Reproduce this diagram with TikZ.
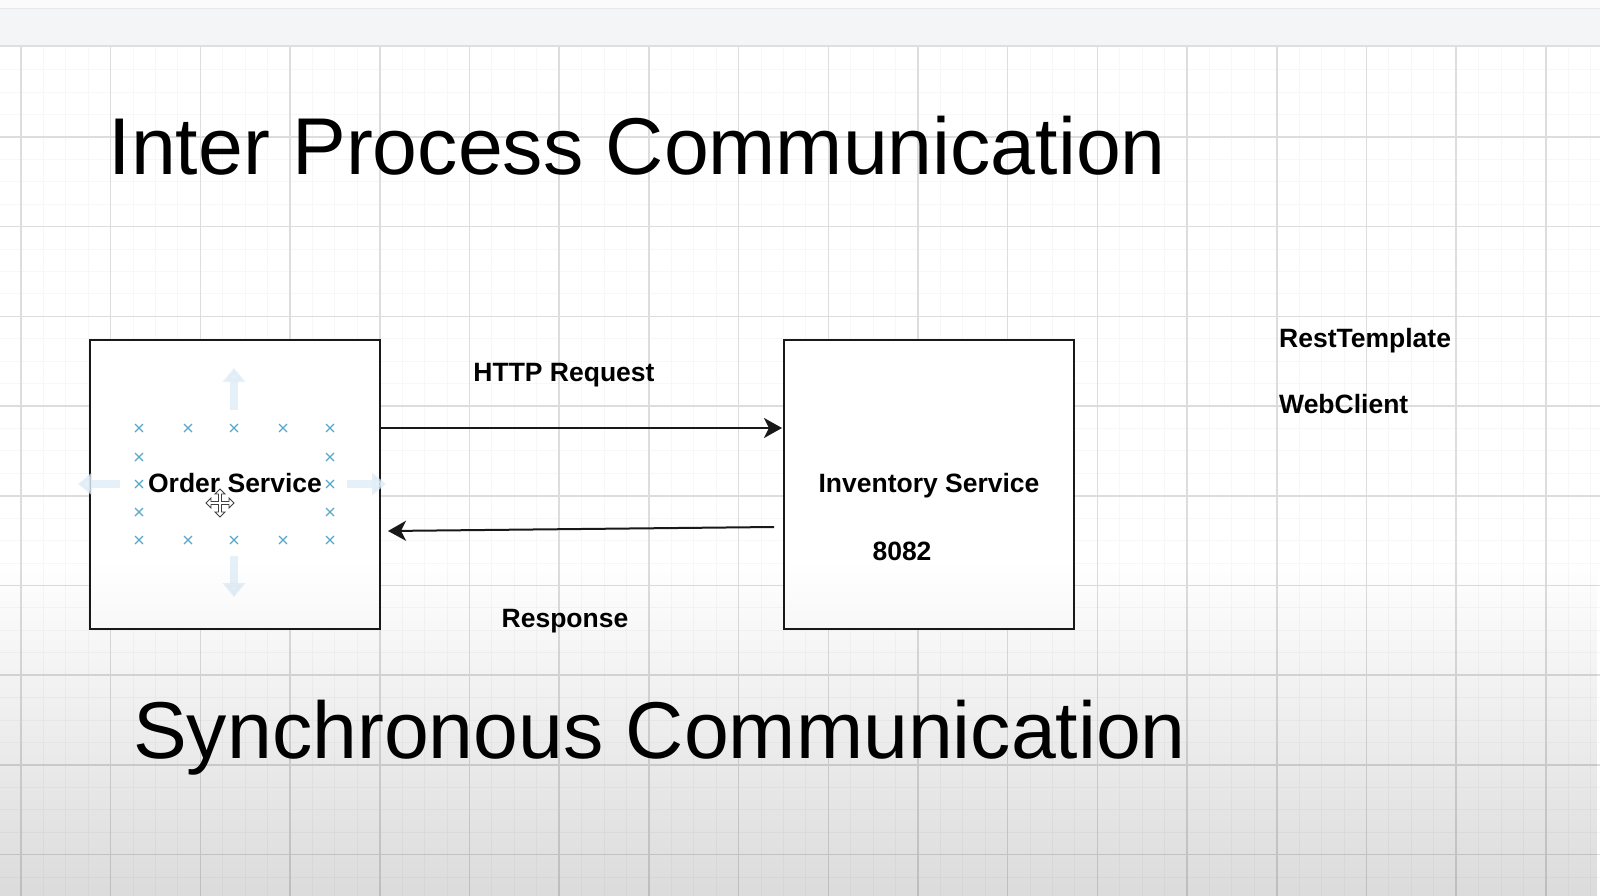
\documentclass[tikz,border=0pt]{standalone}
\usepackage{fontspec}
\setmainfont{Liberation Sans}
\usetikzlibrary{arrows.meta, fadings}

\definecolor{gridline}{RGB}{221,221,221}
\definecolor{gridminor}{RGB}{247,247,247}
\definecolor{handle}{RGB}{88,168,204}
\definecolor{hint}{RGB}{222,235,246}
\definecolor{toolbar}{RGB}{244,245,247}

\tikzfading[name=shadow down, top color=transparent!100, bottom color=transparent!86]

\begin{document}
\begin{tikzpicture}[
    x=1pt, y=-1pt,
    every node/.style={font=\bfseries\fontsize{26.5}{30}\selectfont, inner sep=0pt, text=black},
    >={Stealth[length=18pt, width=20pt, inset=5pt]},
    service/.style={draw=black!90, line width=2pt, fill=white, text height=15pt, text depth=0pt,
        minimum width=290pt, minimum height=289pt},
    flow/.style={->, line width=2pt, black!90},
    heading/.style={font=\fontsize{80.6}{96}\selectfont, anchor=base west},
    handlemark/.style={handle, line width=1.4pt},
    hintarrow/.style={hint, opacity=0.75, line width=8pt, -{Triangle[length=14pt, width=22pt]}},
]

\useasboundingbox (0,0) rectangle (1600,896);
\fill[white] (0,0) rectangle (1600,896);

% === Canvas grid ===
\def\gx{21}        % first vertical grid line
\def\gy{47.3}      % first horizontal grid line
\def\gs{89.7}      % major grid spacing
\foreach \k in {0,...,70}
    \draw[gridminor, line width=1pt] ({\gx+\k*\gs/4},46) -- ({\gx+\k*\gs/4},896);
\foreach \k in {1,...,37}
    \draw[gridminor, line width=1pt] (0,{\gy+\k*\gs/4}) -- (1600,{\gy+\k*\gs/4});
\foreach \k in {0,...,17}
    \draw[gridline, line width=1.5pt] ({\gx+\k*\gs},46) -- ({\gx+\k*\gs},896);
\foreach \k in {1,...,9}
    \draw[gridline, line width=1.5pt] (0,{\gy+\k*\gs}) -- (1600,{\gy+\k*\gs});

% === Toolbar strip ===
\fill[gray!3] (0,0) rectangle (1600,9);
\fill[toolbar] (0,9) rectangle (1600,46);
\draw[gray!18, line width=1pt] (0,9) -- (1600,9);
\draw[gray!25, line width=1.2pt] (0,46) -- (1600,46);

% === Headings ===
\node[heading] (title) at (108.5,175) {Inter Process Communication};
\node[heading] (sync) at (133,758) {Synchronous Communication};

% === Services ===
\node[service] (order) at (235,484.5) {Order Service};
\node[service] (inventory) at (929,484.5) {Inventory Service};
\node[anchor=base] (port) at (902,560) {8082};

% === Request / response ===
\draw[flow, shorten >=1pt] ([yshift=56.5pt]order.east) -- ([yshift=56.5pt]inventory.west);
\draw[flow] ([xshift=-9pt, yshift=-42.5pt]inventory.west) -- ([xshift=7pt, yshift=-46.5pt]order.east);
\node[anchor=base] (request) at (564,381) {HTTP Request};
\node[anchor=base] (response) at (565,627) {Response};

% === Client options ===
\node[anchor=base west] (rest) at (1279,347) {RestTemplate};
\node[anchor=base west] (webclient) at (1279,413) {WebClient};

% === Hover hints on the selected shape ===
\draw[hintarrow] (234,410) -- (234,368);
\draw[hintarrow] (234,556) -- (234,597);
\draw[hintarrow] (120,484) -- (78,484);
\draw[hintarrow] (347,484) -- (386,484);

% Connection points
\foreach \mx in {139,188,234,283,330} {
    \foreach \my in {428,540} {
        \draw[handlemark] ({\mx-4},{\my-4}) -- ({\mx+4},{\my+4}) ({\mx-4},{\my+4}) -- ({\mx+4},{\my-4});
    }
}
\foreach \mx in {139,330} {
    \foreach \my in {457,484,512} {
        \draw[handlemark] ({\mx-4},{\my-4}) -- ({\mx+4},{\my+4}) ({\mx-4},{\my+4}) -- ({\mx+4},{\my-4});
    }
}

% Move cursor
\begin{scope}[shift={(220,503)}]
\draw[fill=white, draw=black!75, line width=0.9pt, line join=miter]
    (0,-14) -- (5,-9) -- (1.5,-9) -- (1.5,-1.5) -- (9,-1.5) -- (9,-5) -- (14,0)
    -- (9,5) -- (9,1.5) -- (1.5,1.5) -- (1.5,9) -- (5,9) -- (0,14) -- (-5,9)
    -- (-1.5,9) -- (-1.5,1.5) -- (-9,1.5) -- (-9,5) -- (-14,0) -- (-9,-5)
    -- (-9,-1.5) -- (-1.5,-1.5) -- (-1.5,-9) -- (-5,-9) -- cycle;
\end{scope}

% === Bottom shadow of the screen ===
\fill[black, path fading=shadow down] (0,560) rectangle (1600,896);

\end{tikzpicture}
\end{document}
